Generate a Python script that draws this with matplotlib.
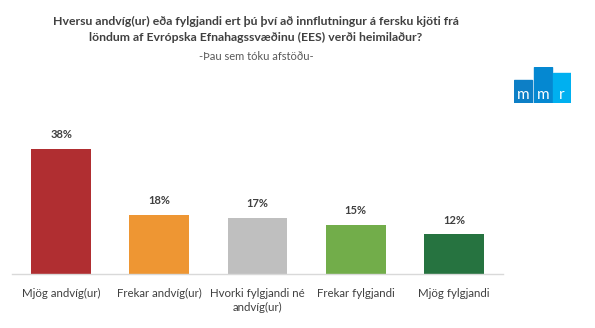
import matplotlib.pyplot as plt
from matplotlib.patches import Rectangle

# DATA

categories = ["Mjög andvíg(ur)", "Frekar andvíg(ur)", "Hvorki fylgjandi né\nandvíg(ur)",
              "Frekar fylgjandi", "Mjög fylgjandi"]
values = [38, 18, 17, 15, 12]
colors = ["#b02e31", "#ee9633", "#bfbfbf", "#72ad4a", "#267340"]

title = ("Hversu andvíg(ur) eða fylgjandi ert þú því að innflutningur á fersku kjöti frá\n"
         "löndum af Evrópska Efnahagssvæðinu (EES) verði heimilaður?")
subtitle = "-Þau sem tóku afstöðu-"

plt.rcParams["font.family"] = ["Lato", "DejaVu Sans"]
text_color = "#404040"

# FIGURE

fig = plt.figure(figsize=(5.95, 3.28), dpi=100)
ax = fig.add_axes([12 / 595, 1 - 274 / 328, 491 / 595, 140 / 328])

x = range(len(categories))
bars = ax.bar(x, values, width=0.61, color=colors)
ax.set_xlim(-0.5, len(categories) - 0.5)
ax.set_ylim(0, 42.5)

for b, v in zip(bars, values):
    ax.text(b.get_x() + b.get_width() / 2, v + 2.6, f"{v}%", ha="center", va="bottom",
            fontsize=8, fontweight="bold", color=text_color)

ax.set_xticks(list(x))
ax.set_xticklabels(categories, fontsize=8.3, color=text_color, linespacing=1.35)
ax.tick_params(axis="x", length=0, pad=10)
ax.set_yticks([])
for s in ["top", "right", "left"]:
    ax.spines[s].set_visible(False)
ax.spines["bottom"].set_color("#d9d9d9")
ax.spines["bottom"].set_linewidth(1)

# TITLE

cx = 256 / 595
fig.text(cx, 1 - 29 / 328, title, ha="center", va="center", fontsize=8.8,
         fontweight="bold", color=text_color, linespacing=1.55)
fig.text(cx, 1 - 57 / 328, subtitle, ha="center", va="center", fontsize=8,
         color="#595959")

# LOGO

logo = fig.add_axes([514 / 595, 1 - 103 / 328, 57 / 595, 36 / 328])
logo.set_xlim(0, 57)
logo.set_ylim(0, 36)
logo.axis("off")
logo.add_patch(Rectangle((0, 0), 18, 23, color="#0d7fc6"))
logo.add_patch(Rectangle((20, 0), 18, 36, color="#0588d1"))
logo.add_patch(Rectangle((39, 0), 18, 30, color="#00b0f0"))
for xc, ch in zip([9, 29, 48], ["m", "m", "r"]):
    logo.text(xc, 1, ch, ha="center", va="bottom", color="white", fontsize=11)

fig.savefig("out.png", dpi=100)
